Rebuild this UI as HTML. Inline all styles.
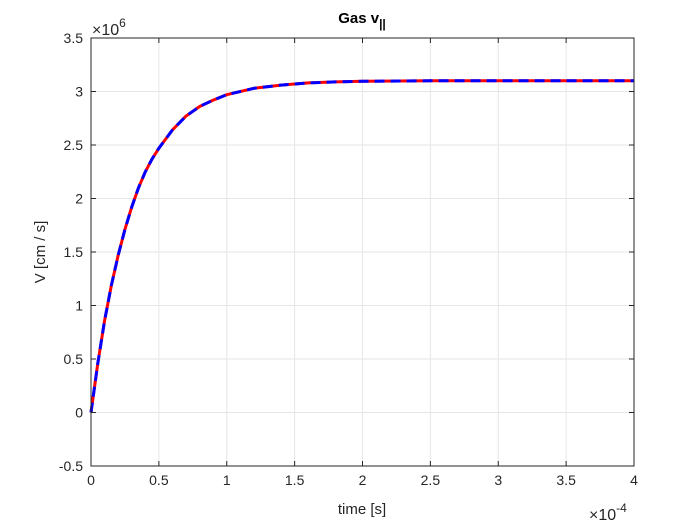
<!DOCTYPE html>
<html><head><meta charset="utf-8"><style>
body{margin:0;background:#fff;}
svg{display:block;font-family:"Liberation Sans",Arial,sans-serif;}
</style></head><body>
<svg id="chart" width="700" height="525" viewBox="0 0 700 525">
<rect width="700" height="525" fill="#fff"/>
<g id="grid"></g>
<g id="series"></g>
<rect x="91" y="38" width="543" height="428" fill="none" stroke="#262626" stroke-width="1"/>
<g id="ticks"></g>
<text x="362" y="23" text-anchor="middle" font-size="15" font-weight="bold" fill="#000">Gas v<tspan font-size="12" dy="5">||</tspan></text>
<text x="92" y="35" font-size="16" fill="#262626">×10<tspan font-size="12" dy="-8">6</tspan></text>
<text x="589" y="520" font-size="16" fill="#262626">×10<tspan font-size="12" dy="-8">-4</tspan></text>
<text x="362" y="514" text-anchor="middle" font-size="15" fill="#262626">time [s]</text>
<text transform="translate(45,252) rotate(-90)" text-anchor="middle" font-size="15" fill="#262626">V [cm / s]</text>
</svg>
<script>
const xTicks=[0,0.5,1,1.5,2,2.5,3,3.5,4];
const xTickLabels=["0","0.5","1","1.5","2","2.5","3","3.5","4"];
const yTicks=[-0.5,0,0.5,1,1.5,2,2.5,3,3.5];
const yTickLabels=["-0.5","0","0.5","1","1.5","2","2.5","3","3.5"];
const timeVals=[0,0.05,0.1,0.15,0.2,0.25,0.3,0.35,0.4,0.45,0.5,0.6,0.7,0.8,0.9,1.0,1.2,1.4,1.6,1.8,2.0,2.5,3,3.5,4];
const velVals=[0,0.46,0.86,1.19,1.47,1.71,1.92,2.10,2.25,2.37,2.47,2.64,2.77,2.86,2.92,2.97,3.03,3.06,3.08,3.09,3.095,3.1,3.1,3.1,3.1];
const X0=91,X1=634,Y0=466,Y1=38;
const sx=v=>X0+(v-0)/(4-0)*(X1-X0);
const sy=v=>Y0-(v+0.5)/(4)*(Y0-Y1);
const NS="http://www.w3.org/2000/svg";
const grid=document.getElementById('grid'),ticks=document.getElementById('ticks'),ser=document.getElementById('series');
function mk(tag,attrs,parent){const e=document.createElementNS(NS,tag);for(const k in attrs)e.setAttribute(k,attrs[k]);parent.appendChild(e);return e;}
xTicks.forEach((t,i)=>{const x=sx(t);
 const g=mk('line',{x1:x,x2:x,y1:Y1,y2:Y0,stroke:'#e6e6e6','stroke-width':1},grid);
 
 
 const tk=mk('line',{x1:x,x2:x,y1:Y0,y2:Y0-5,stroke:'#262626'},ticks);
 
 
 const tk2=mk('line',{x1:x,x2:x,y1:Y1,y2:Y1+5,stroke:'#262626'},ticks);
 
 
 const tx=mk('text',{x:x,y:Y0+19,'text-anchor':'middle','font-size':14,fill:'#262626'},ticks);
 tx.textContent=xTickLabels[i];
 
 
});
yTicks.forEach((t,i)=>{const y=sy(t);
 const g=mk('line',{x1:X0,x2:X1,y1:y,y2:y,stroke:'#e6e6e6','stroke-width':1},grid);
 
 
 const tk=mk('line',{x1:X0,x2:X0+5,y1:y,y2:y,stroke:'#262626'},ticks);
 
 
 const tk2=mk('line',{x1:X1,x2:X1-5,y1:y,y2:y,stroke:'#262626'},ticks);
 
 
 const tx=mk('text',{x:X0-8,y:y+5,'text-anchor':'end','font-size':14,fill:'#262626'},ticks);
 tx.textContent=yTickLabels[i];
 
 
});
const d=timeVals.map((t,i)=>(i?'L':'M')+sx(t).toFixed(1)+','+sy(velVals[i]).toFixed(1)).join(' ');
const red=mk('path',{d:d,fill:'none',stroke:'#ff0000','stroke-width':3,'stroke-linejoin':'round'},ser);


const blue=mk('path',{d:d,fill:'none',stroke:'#0000ff','stroke-width':3,'stroke-dasharray':'10,6','stroke-linejoin':'round'},ser);


</script>
</body></html>
